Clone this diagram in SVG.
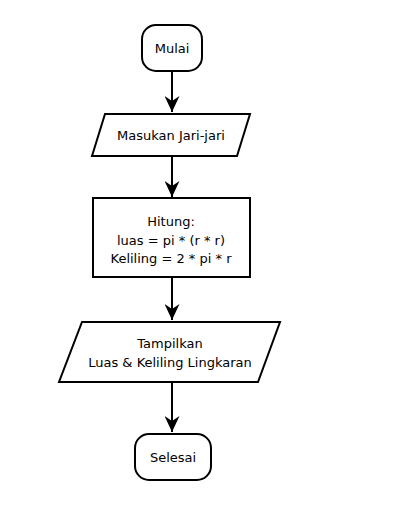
<svg xmlns="http://www.w3.org/2000/svg" width="408" height="511" viewBox="0 0 408 511">
<defs>
<style>
.s{fill:#fff;stroke:#000;stroke-width:2}
.t{font-family:"DejaVu Sans",Verdana,sans-serif;font-size:13px;fill:#000;text-anchor:middle}
.c{stroke:#000;stroke-width:2;fill:none}
</style>
<marker id="ah" markerWidth="16" markerHeight="15" refX="16" refY="7.5" orient="auto" markerUnits="userSpaceOnUse" viewBox="0 0 16 15">
<path d="M0,0 L16,7.5 L0,15 L5,7.5 Z" fill="#000"/>
</marker>
</defs>
<rect width="408" height="511" fill="#fff"/>
<g id="connectors">
<line class="c" x1="172" y1="71" x2="172" y2="112" marker-end="url(#ah)"/>
<line class="c" x1="172" y1="156" x2="172" y2="197" marker-end="url(#ah)"/>
<line class="c" x1="172" y1="277" x2="172" y2="320" marker-end="url(#ah)"/>
<line class="c" x1="172" y1="382" x2="172" y2="432" marker-end="url(#ah)"/>
</g>
<g id="mulai">
<rect class="s" x="142" y="25" width="60" height="46" rx="14" ry="14"/>
<text class="t" x="172" y="53">Mulai</text>
</g>
<g id="input">
<polygon class="s" points="105,114 250,114 237,156 92,156"/>
<text class="t" x="171" y="140">Masukan Jari-jari</text>
</g>
<g id="proses">
<rect class="s" x="93" y="198" width="157" height="79"/>
<text class="t" x="171" y="226">Hitung:</text>
<text class="t" x="171" y="245">luas = pi * (r * r)</text>
<text class="t" x="171" y="263">Keliling = 2 * pi * r</text>
</g>
<g id="output">
<polygon class="s" points="82,322 280,322 258,382 59,382"/>
<text class="t" x="170" y="348">Tampilkan</text>
<text class="t" x="170" y="367">Luas &amp; Keliling Lingkaran</text>
</g>
<g id="selesai">
<rect class="s" x="135" y="434" width="76" height="46" rx="14" ry="14"/>
<text class="t" x="173" y="462">Selesai</text>
</g>
</svg>
